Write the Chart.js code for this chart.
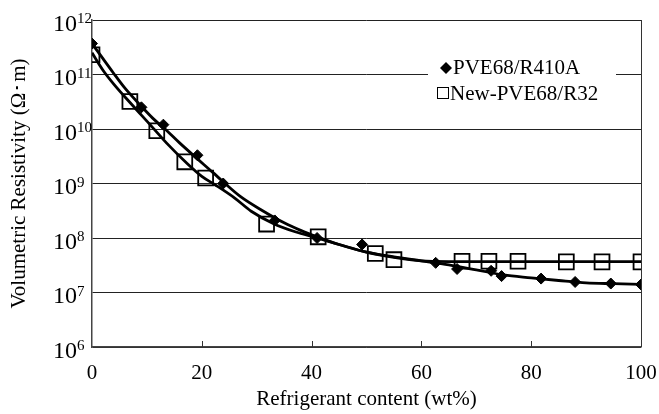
<!DOCTYPE html>
<html>
<head>
<meta charset="utf-8">
<script src="https://cdn.jsdelivr.net/npm/chart.js@4.4.1/dist/chart.umd.min.js"></script>
<style>
  html, body { margin: 0; padding: 0; background: #fff; }
  #wrap { width: 659px; height: 414px; }
</style>
</head>
<body>
<div id="wrap"><canvas id="resistivity" width="659" height="414"></canvas></div>
<script>
// series names
const seriesNames = ['PVE68/R410A', 'New-PVE68/R32'];

// measured points (wt%, Ω·m)
const r410aX = [0, 9, 13, 19.2, 23.9, 33.3, 41, 49.2, 62.6, 66.5, 72.7, 74.6, 81.8, 88, 94.5, 100];
const r410aY = [3.7e11, 2.5e10, 1.2e10, 3.3e9, 1.0e9, 2.1e8, 1.0e8, 7.6e7, 3.5e7, 2.7e7, 2.5e7, 2.0e7, 1.8e7, 1.56e7, 1.46e7, 1.4e7];

const r32X = [0, 6.9, 11.8, 16.9, 20.7, 31.8, 41.2, 51.6, 55, 67.4, 72.3, 77.6, 86.4, 92.9, 100];
const r32Y = [2.3e11, 3.2e10, 9.3e9, 2.5e9, 1.26e9, 1.8e8, 1.05e8, 5.2e7, 4.0e7, 3.75e7, 3.75e7, 3.75e7, 3.65e7, 3.65e7, 3.65e7];

// trend curves
const r410aFitX = [0, 2, 3.8, 6, 9, 11, 13.3, 16, 19, 22, 24, 27, 31, 35, 38, 41, 45, 50, 55, 60, 65, 70, 75, 80, 85, 90, 95, 100];
const r410aFitY = [3.7e11, 1.95e11, 1.1e11, 5.6e10, 2.6e10, 1.6e10, 1.0e10, 5.5e9, 2.95e9, 1.6e9, 1.05e9, 5.8e8, 3.2e8, 1.9e8, 1.38e8, 1.05e8, 7.6e7, 5.5e7, 4.5e7, 3.8e7, 3.2e7, 2.6e7, 2.1e7, 1.86e7, 1.66e7, 1.5e7, 1.45e7, 1.41e7];

const r32FitX = [0, 2, 4, 7, 9, 11.1, 14, 17, 20, 22.4, 26, 29, 33, 37, 41, 45, 50, 55, 60, 65, 70, 80, 90, 100];
const r32FitY = [2.5e11, 1.2e11, 6.6e10, 3.0e10, 1.8e10, 1.05e10, 5.0e9, 2.5e9, 1.35e9, 9.5e8, 5.4e8, 3.1e8, 1.85e8, 1.3e8, 1.0e8, 7.6e7, 5.5e7, 4.4e7, 3.8e7, 3.7e7, 3.7e7, 3.7e7, 3.7e7, 3.7e7];

// axis ticks
const xTicks = [0, 20, 40, 60, 80, 100];
const yExponents = [6, 7, 8, 9, 10, 11, 12];

const serif = "'Liberation Serif', 'Times New Roman', serif";

function pts(xs, ys) {
  return xs.map((x, i) => ({x: x, y: ys[i]}));
}

// y tick labels as 10^n, inward x ticks, right frame and the legend
const decor = {
  id: 'decor',
  afterDraw(chart) {
    const {ctx, chartArea: a, scales: {x, y}} = chart;
    ctx.save();
    ctx.strokeStyle = '#333';
    ctx.lineWidth = 1;
    ctx.beginPath();
    ctx.moveTo(a.right + 0.5, a.top);
    ctx.lineTo(a.right + 0.5, a.bottom);
    xTicks.slice(1, -1).forEach(v => {
      const px = Math.round(x.getPixelForValue(v)) + 0.5;
      ctx.moveTo(px, a.bottom);
      ctx.lineTo(px, a.bottom - 6);
    });
    ctx.stroke();

    ctx.fillStyle = '#000';
    ctx.textAlign = 'left';
    ctx.textBaseline = 'alphabetic';
    yExponents.forEach(e => {
      const py = y.getPixelForValue(Math.pow(10, e));
      ctx.font = '24px ' + serif;
      ctx.fillText('10', 53, py + 10.5);
      const w = ctx.measureText('10').width;
      ctx.font = '15px ' + serif;
      ctx.fillText(String(e), 53 + w, py + 3);
    });

    // legend
    ctx.fillStyle = '#fff';
    ctx.fillRect(a.right - 213, a.top + 37, 188, 50);
    ctx.fillStyle = '#000';
    const lx = a.right - 201;
    ctx.beginPath();
    ctx.moveTo(lx + 6, a.top + 42);
    ctx.lineTo(lx + 12, a.top + 48);
    ctx.lineTo(lx + 6, a.top + 54);
    ctx.lineTo(lx, a.top + 48);
    ctx.closePath();
    ctx.fill();
    ctx.strokeStyle = '#000';
    ctx.lineWidth = 1;
    ctx.strokeRect(lx - 2.5, a.top + 67.5, 11, 11);
    ctx.font = '21px ' + serif;
    ctx.fillText(seriesNames[0], lx + 13, a.top + 54);
    ctx.fillText(seriesNames[1], lx + 10, a.top + 80);
    ctx.restore();
  }
};

const ctx = document.getElementById('resistivity');
new Chart(ctx, {
  type: 'scatter',
  data: {
    datasets: [
      {
        label: seriesNames[0],
        data: pts(r410aX, r410aY),
        pointStyle: 'rectRot',
        pointRadius: 5.5,
        backgroundColor: '#000',
        borderColor: '#000',
        borderWidth: 1,
        order: 0
      },
      {
        label: seriesNames[1],
        data: pts(r32X, r32Y),
        pointStyle: 'rect',
        pointRadius: 10.5,
        backgroundColor: 'rgba(0,0,0,0)',
        borderColor: '#000',
        borderWidth: 1.8,
        order: 0
      },
      {
        label: seriesNames[0] + ' fit',
        data: pts(r410aFitX, r410aFitY),
        showLine: true,
        pointRadius: 0,
        borderColor: '#000',
        borderWidth: 2.8,
        cubicInterpolationMode: 'monotone',
        order: 1
      },
      {
        label: seriesNames[1] + ' fit',
        data: pts(r32FitX, r32FitY),
        showLine: true,
        pointRadius: 0,
        borderColor: '#000',
        borderWidth: 2.8,
        cubicInterpolationMode: 'monotone',
        order: 1
      }
    ]
  },
  options: {
    responsive: false,
    animation: false,
    layout: { padding: { top: 20, right: 18, left: 0, bottom: 0 } },
    plugins: {
      legend: { display: false },
      tooltip: { enabled: false }
    },
    scales: {
      x: {
        type: 'linear',
        min: 0,
        max: 100,
        afterFit: s => { s.height = 67; s.paddingLeft = 0; s.paddingRight = 0; },
        afterBuildTicks: s => { s.ticks = xTicks.map(v => ({value: v})); },
        grid: { drawOnChartArea: false, drawTicks: false },
        border: { display: true, color: '#444', width: 1.5 },
        ticks: { color: '#000', font: { family: serif, size: 21 }, padding: 14 },
        title: {
          display: true,
          text: 'Refrigerant content (wt%)',
          color: '#000',
          font: { family: serif, size: 21 },
          padding: { top: 0, bottom: 2 }
        }
      },
      y: {
        type: 'logarithmic',
        min: 1e6,
        max: 1e12,
        afterFit: s => { s.width = 92; s.paddingTop = 0; s.paddingBottom = 0; },
        afterBuildTicks: s => { s.ticks = yExponents.map(e => ({value: Math.pow(10, e)})); },
        grid: { color: '#222', lineWidth: 1, drawTicks: false },
        border: { display: true, color: '#444', width: 1.5 },
        ticks: { display: false },
        title: {
          display: true,
          text: 'Volumetric Resistivity (Ω･m)',
          color: '#000',
          font: { family: serif, size: 21 },
          padding: { top: 7, bottom: 0 }
        }
      }
    }
  },
  plugins: [decor]
});
</script>
</body>
</html>
